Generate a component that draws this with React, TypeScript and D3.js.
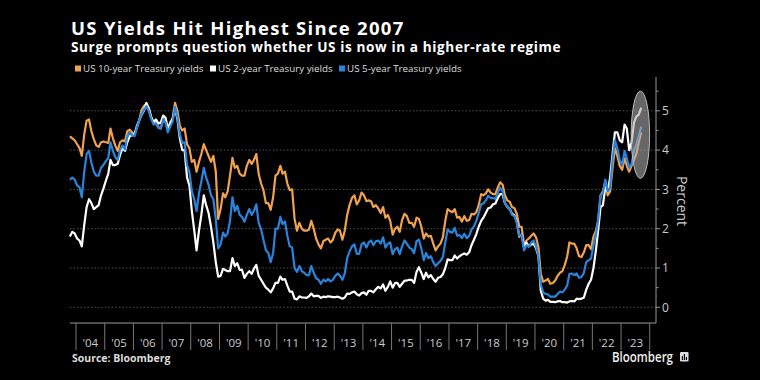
import React from "react";
import * as d3 from "d3";

// ---------- DATA (monthly, mid-month, Oct 2003 .. Sep 2023) ----------
const startYear = 2003;
const startMonth = 9; // October (0-based)

const seriesNames = ["US 10-year Treasury yields", "US 2-year Treasury yields", "US 5-year Treasury yields"];

const y10: number[] = [
  4.35, 4.30, 4.25,
  4.15, 4.05, 3.85, 4.40, 4.75, 4.78, 4.48, 4.28, 4.12, 4.08, 4.20, 4.22,
  4.20, 4.18, 4.55, 4.30, 4.12, 3.98, 4.20, 4.25, 4.22, 4.48, 4.52, 4.45,
  4.40, 4.57, 4.75, 5.02, 5.12, 5.18, 5.08, 4.86, 4.70, 4.72, 4.58, 4.55,
  4.78, 4.70, 4.55, 4.70, 4.80, 5.20, 5.00, 4.62, 4.50, 4.55, 4.15, 4.05,
  3.70, 3.75, 3.45, 3.70, 3.90, 4.15, 4.00, 3.85, 3.70, 3.85, 3.45, 2.25,
  2.50, 2.90, 2.80, 2.95, 3.35, 3.80, 3.55, 3.60, 3.40, 3.35, 3.35, 3.60,
  3.75, 3.65, 3.75, 3.90, 3.40, 3.15, 2.98, 2.65, 2.65, 2.48, 2.80, 3.35,
  3.40, 3.60, 3.40, 3.45, 3.15, 2.98, 3.00, 2.25, 1.95, 2.15, 2.00, 1.95,
  1.95, 1.98, 2.20, 2.00, 1.75, 1.60, 1.50, 1.68, 1.72, 1.75, 1.65, 1.72,
  1.90, 1.98, 1.95, 1.72, 1.95, 2.35, 2.60, 2.78, 2.85, 2.62, 2.72, 2.92,
  2.85, 2.70, 2.72, 2.70, 2.55, 2.60, 2.52, 2.40, 2.55, 2.28, 2.35, 2.20,
  1.85, 2.00, 2.05, 1.92, 2.22, 2.38, 2.32, 2.15, 2.15, 2.05, 2.28, 2.25,
  2.05, 1.75, 1.88, 1.80, 1.82, 1.62, 1.45, 1.55, 1.62, 1.78, 2.20, 2.50,
  2.45, 2.42, 2.50, 2.28, 2.30, 2.18, 2.32, 2.20, 2.22, 2.38, 2.36, 2.42,
  2.60, 2.88, 2.85, 2.90, 3.00, 2.92, 2.88, 2.88, 3.05, 3.18, 3.12, 2.85,
  2.72, 2.68, 2.55, 2.52, 2.38, 2.05, 2.05, 1.58, 1.70, 1.75, 1.82, 1.88,
  1.78, 1.52, 0.85, 0.65, 0.68, 0.72, 0.60, 0.62, 0.68, 0.80, 0.88, 0.92,
  1.08, 1.30, 1.65, 1.62, 1.62, 1.50, 1.30, 1.28, 1.40, 1.58, 1.58, 1.48,
  1.80, 1.95, 2.20, 2.85, 2.95, 3.20, 2.85, 2.95, 3.55, 4.05, 3.85, 3.60,
  3.50, 3.80, 3.60, 3.45, 3.60, 3.75, 3.90, 4.20, 4.45,
];

const y2: number[] = [
  1.80, 1.92, 1.88,
  1.75, 1.70, 1.55, 2.10, 2.55, 2.75, 2.65, 2.50, 2.55, 2.60, 2.85, 3.02,
  3.22, 3.40, 3.75, 3.62, 3.62, 3.65, 3.88, 4.05, 3.98, 4.20, 4.35, 4.38,
  4.40, 4.62, 4.75, 4.90, 5.00, 5.20, 5.05, 4.82, 4.72, 4.78, 4.68, 4.70,
  4.88, 4.82, 4.55, 4.68, 4.80, 5.05, 4.80, 4.30, 4.00, 4.00, 3.30, 3.10,
  2.45, 1.95, 1.45, 1.95, 2.35, 2.85, 2.60, 2.40, 2.05, 1.65, 1.15, 0.78,
  0.80, 0.98, 0.95, 0.92, 0.92, 1.25, 1.05, 1.12, 0.95, 0.95, 0.75, 0.85,
  0.92, 0.85, 0.98, 1.08, 0.80, 0.70, 0.60, 0.50, 0.45, 0.38, 0.48, 0.62,
  0.62, 0.78, 0.70, 0.72, 0.55, 0.40, 0.40, 0.22, 0.20, 0.28, 0.25, 0.25,
  0.24, 0.28, 0.35, 0.28, 0.29, 0.29, 0.24, 0.27, 0.26, 0.28, 0.27, 0.26,
  0.26, 0.27, 0.25, 0.22, 0.25, 0.35, 0.34, 0.38, 0.40, 0.33, 0.30, 0.36,
  0.38, 0.32, 0.42, 0.42, 0.38, 0.46, 0.52, 0.48, 0.58, 0.42, 0.52, 0.66,
  0.50, 0.62, 0.62, 0.52, 0.60, 0.68, 0.68, 0.70, 0.70, 0.62, 0.90, 1.02,
  0.88, 0.72, 0.88, 0.76, 0.82, 0.72, 0.65, 0.75, 0.77, 0.84, 1.00, 1.22,
  1.20, 1.20, 1.32, 1.24, 1.30, 1.34, 1.37, 1.34, 1.40, 1.58, 1.72, 1.86,
  2.05, 2.20, 2.28, 2.40, 2.52, 2.54, 2.62, 2.64, 2.78, 2.88, 2.88, 2.65,
  2.55, 2.50, 2.38, 2.34, 2.18, 1.80, 1.85, 1.52, 1.65, 1.55, 1.60, 1.62,
  1.50, 1.30, 0.42, 0.22, 0.17, 0.19, 0.14, 0.14, 0.13, 0.15, 0.16, 0.13,
  0.13, 0.12, 0.15, 0.16, 0.15, 0.22, 0.21, 0.22, 0.25, 0.45, 0.60, 0.70,
  1.00, 1.45, 1.95, 2.55, 2.60, 3.05, 2.95, 3.30, 3.90, 4.45, 4.45, 4.25,
  4.20, 4.65, 4.55, 4.00, 4.20, 4.70, 4.85, 4.90, 5.08,
];

const y5: number[] = [
  3.25, 3.30, 3.25,
  3.10, 3.05, 2.80, 3.45, 3.90, 3.98, 3.68, 3.45, 3.35, 3.35, 3.55, 3.62,
  3.72, 3.80, 4.20, 3.98, 3.82, 3.75, 4.00, 4.12, 4.02, 4.35, 4.45, 4.38,
  4.35, 4.58, 4.75, 4.92, 5.02, 5.12, 5.00, 4.80, 4.65, 4.68, 4.56, 4.55,
  4.78, 4.70, 4.45, 4.60, 4.72, 5.10, 4.85, 4.40, 4.18, 4.20, 3.62, 3.45,
  2.95, 2.75, 2.45, 2.90, 3.20, 3.55, 3.30, 3.12, 2.85, 2.75, 2.25, 1.50,
  1.60, 1.90, 1.80, 1.88, 2.20, 2.80, 2.45, 2.58, 2.35, 2.30, 2.18, 2.35,
  2.50, 2.35, 2.45, 2.62, 2.15, 1.98, 1.72, 1.45, 1.38, 1.15, 1.38, 2.00,
  2.00, 2.30, 2.12, 2.18, 1.82, 1.55, 1.52, 1.00, 0.90, 1.05, 0.92, 0.88,
  0.82, 0.82, 1.05, 0.88, 0.74, 0.70, 0.60, 0.70, 0.66, 0.72, 0.66, 0.70,
  0.80, 0.86, 0.80, 0.70, 0.86, 1.25, 1.42, 1.55, 1.60, 1.36, 1.36, 1.60,
  1.65, 1.52, 1.65, 1.70, 1.58, 1.68, 1.70, 1.62, 1.78, 1.52, 1.62, 1.65,
  1.35, 1.48, 1.52, 1.35, 1.55, 1.70, 1.62, 1.52, 1.48, 1.38, 1.68, 1.72,
  1.50, 1.20, 1.38, 1.25, 1.30, 1.15, 1.05, 1.12, 1.18, 1.28, 1.65, 1.98,
  1.92, 1.90, 2.02, 1.82, 1.84, 1.76, 1.87, 1.76, 1.82, 1.98, 2.06, 2.20,
  2.40, 2.62, 2.64, 2.72, 2.84, 2.78, 2.78, 2.76, 2.92, 3.04, 2.95, 2.65,
  2.55, 2.50, 2.35, 2.32, 2.15, 1.82, 1.84, 1.45, 1.58, 1.55, 1.65, 1.70,
  1.55, 1.30, 0.58, 0.38, 0.34, 0.33, 0.27, 0.27, 0.27, 0.34, 0.40, 0.38,
  0.45, 0.56, 0.85, 0.86, 0.82, 0.86, 0.75, 0.77, 0.88, 1.15, 1.20, 1.24,
  1.58, 1.85, 2.20, 2.85, 2.90, 3.25, 2.95, 3.05, 3.75, 4.25, 4.05, 3.75,
  3.62, 3.98, 3.80, 3.55, 3.65, 3.98, 4.15, 4.35, 4.60,
];

const yTicks = [0, 1, 2, 3, 4, 5];
const yMinorTicks = [0.5, 1.5, 2.5, 3.5, 4.5, 5.5];
const yearTicks = d3.range(2004, 2025);
const yearLabels = d3.range(2004, 2024);

// highlight ellipse (data terms)
const highlightDates = [new Date(2023, 4, 10), new Date(2023, 11, 31)];
const highlightRange = [3.28, 5.5];

const colors = ["#f2a24e", "#ffffff", "#2b84dc"];

const dates = y10.map((_, i) => new Date(startYear, startMonth + i, 15));

export default function App() {
  const W = 760, H = 380;
  const x = d3.scaleTime().domain([new Date(2004, 0, 1), new Date(2024, 0, 1)]).range([76, 649.7]);
  const y = d3.scaleLinear().domain([0, 5]).range([307.3, 110.8]);
  const left = x(dates[0]);
  const axisX = 656;
  const bottomY = y(-0.4);
  const topY = y(5.86);

  const line = d3.line<number>().x((_, i) => x(dates[i])).y((d) => y(d)).curve(d3.curveLinear);
  const series = [y10, y2, y5];
  const drawOrder = [0, 1, 2];

  const ex0 = x(highlightDates[0]), ex1 = x(highlightDates[1]);
  const ey0 = y(highlightRange[1]), ey1 = y(highlightRange[0]);

  const legendX = [75, 210, 339];
  const font = "'Open Sans', 'Liberation Sans', sans-serif";

  return (
    <svg width={W} height={H} style={{ position: "absolute", left: 0, top: 0, display: "block" }} fontFamily={font}>
      <rect x={0} y={0} width={W} height={H} fill="#000" />
      <text x={71} y={35} fill="#fff" fontSize={18.5} fontWeight={700} letterSpacing={1.3}>US Yields Hit Highest Since 2007</text>
      <text x={71} y={51.5} fill="#fff" fontSize={13.6} fontWeight={700} letterSpacing={0.6}>Surge prompts question whether US is now in a higher-rate regime</text>

      {seriesNames.map((n, i) => (
        <g key={n}>
          <rect x={legendX[i]} y={65.5} width={6} height={6} fill={colors[i]} />
          <text x={legendX[i] + 8} y={71.5} fill="#ddd" fontSize={9.8}>{n}</text>
        </g>
      ))}

      {yTicks.map((t) => (
        <line key={t} x1={left} x2={axisX} y1={y(t)} y2={y(t)} stroke="#666" strokeWidth={0.8} strokeDasharray="1.5,2" />
      ))}

      {drawOrder.map((si) => (
        <path key={si} d={line(series[si]) || ""} fill="none" stroke={colors[si]} strokeWidth={2.2} strokeLinejoin="round" />
      ))}

      <ellipse cx={(ex0 + ex1) / 2} cy={(ey0 + ey1) / 2} rx={(ex1 - ex0) / 2} ry={(ey1 - ey0) / 2}
        fill="rgba(170,170,170,0.6)" stroke="#bbb" strokeWidth={1} />

      {/* axes */}
      <line x1={left} x2={axisX} y1={bottomY} y2={bottomY} stroke="#999" strokeWidth={1} />
      <line x1={axisX} x2={axisX} y1={topY} y2={bottomY} stroke="#999" strokeWidth={1} />
      {yTicks.map((t) => (
        <g key={t}>
          <line x1={axisX} x2={axisX + 4} y1={y(t)} y2={y(t)} stroke="#999" />
          <text x={axisX + 6} y={y(t) + 4.3} fill="#ccc" fontSize={12}>{t}</text>
        </g>
      ))}
      {yMinorTicks.map((t) => (
        <line key={t} x1={axisX} x2={axisX + 2.5} y1={y(t)} y2={y(t)} stroke="#999" />
      ))}
      <text transform={`translate(677,201) rotate(90)`} fill="#ccc" fontSize={14} textAnchor="middle">Percent</text>

      {yearTicks.map((yr) => (
        <line key={yr} x1={x(new Date(yr, 0, 1))} x2={x(new Date(yr, 0, 1))} y1={bottomY} y2={350} stroke="#777" strokeWidth={1} />
      ))}
      {yearLabels.map((yr) => (
        <text key={yr} x={(x(new Date(yr, 0, 1)) + x(new Date(yr + 1, 0, 1))) / 2} y={346.5} fill="#ccc" fontSize={11.5} textAnchor="middle">
          {"'" + String(yr).slice(2)}
        </text>
      ))}

      <text x={72} y={362} fill="#ddd" fontSize={10.5} fontWeight={700}>Source: Bloomberg</text>
      <text x={612} y={362} fill="#eee" fontSize={13.5} fontWeight={600} textLength={61} lengthAdjust="spacingAndGlyphs">Bloomberg</text>
      <g>
        <rect x={680} y={352} width={8.5} height={9.5} rx={1.2} fill="#ddd" />
        <rect x={681.8} y={356} width={1.2} height={4} fill="#000" />
        <rect x={683.8} y={354} width={1.2} height={6} fill="#000" />
        <rect x={685.8} y={357} width={1.2} height={3} fill="#000" />
      </g>
    </svg>
  );
}
